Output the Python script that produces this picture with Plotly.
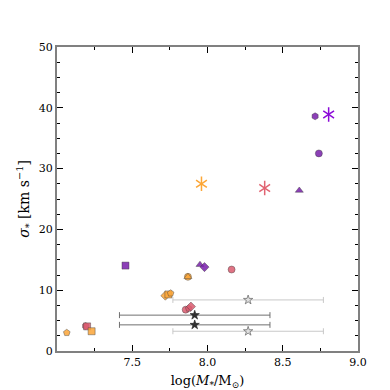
import plotly.graph_objects as go

# puntos por color: log(M*/Msun), sigma*, simbolo
purple_x   = [7.455, 7.95, 7.98, 8.715, 8.74, 8.61]
purple_y   = [14.05, 14.2, 13.8, 38.6, 32.5, 26.4]
purple_sym = ["square", "triangle-up", "diamond", "hexagon", "circle", "triangle-up"]

pink_x   = [8.16, 7.855, 7.875, 7.89, 7.19, 7.2]
pink_y   = [13.4, 6.8, 7.0, 7.3, 4.1, 4.05]
pink_sym = ["circle", "circle", "pentagon", "diamond", "hexagon", "square"]

orange_x   = [7.87, 7.87, 7.72, 7.74, 7.755, 7.23, 7.065]
orange_y   = [12.2, 12.2, 9.1, 9.3, 9.5, 3.25, 3.0]
orange_sym = ["circle", "triangle-up", "diamond", "square", "pentagon", "square", "pentagon"]

# asteriscos
ast_x      = [7.96, 8.38, 8.805]
ast_y      = [27.5, 26.8, 38.9]
ast_colors = ["#fca636", "#e16472", "#8b0ad8"]

# estrellas con barras de error en x
star_light_x = [8.27, 8.27]
star_light_y = [8.4, 3.25]
star_dark_x  = [7.915, 7.915]
star_dark_y  = [5.9, 4.3]
star_err     = 0.5

x_range = [7.0, 9.0]
y_range = [0, 50]
x_ticks = [7.5, 8.0, 8.5, 9.0]
x_ticktext = ["7.5", "8.0", "8.5", "9.0"]
y_ticks = [0, 10, 20, 30, 40, 50]

PURPLE = "rgba(120,30,170,0.85)"
PINK   = "rgba(218,90,110,0.85)"
ORANGE = "rgba(250,165,55,0.85)"

fig = go.Figure()

for xs, ys, syms, color in [
    (purple_x, purple_y, purple_sym, PURPLE),
    (pink_x, pink_y, pink_sym, PINK),
    (orange_x, orange_y, orange_sym, ORANGE),
]:
    fig.add_trace(go.Scatter(
        x=xs, y=ys, mode="markers",
        marker=dict(symbol=syms, size=7, color=color,
                    line=dict(color="rgba(60,60,60,0.7)", width=0.6)),
    ))

fig.add_trace(go.Scatter(
    x=star_light_x, y=star_light_y, mode="markers",
    error_x=dict(type="constant", value=star_err, color="#c8c8c8", thickness=1, width=3),
    marker=dict(symbol="star", size=7, color="#e0e0e0",
                line=dict(color="#707070", width=0.8)),
))
fig.add_trace(go.Scatter(
    x=star_dark_x, y=star_dark_y, mode="markers",
    error_x=dict(type="constant", value=star_err, color="#707070", thickness=1, width=3),
    marker=dict(symbol="star", size=7, color="#303030",
                line=dict(color="#202020", width=0.6)),
))

# asterisco de 6 brazos: y-up + y-down superpuestos (en los ejes espejo)
for sym in ["y-up-open", "y-down-open"]:
    fig.add_trace(go.Scatter(
        x=ast_x, y=ast_y, mode="markers", xaxis="x2", yaxis="y2",
        marker=dict(symbol=sym, size=9, color=ast_colors,
                    line=dict(color=ast_colors, width=1.5)),
    ))

axis_common = dict(
    showline=True, linecolor="gray", linewidth=2, mirror=False,
    ticks="inside", ticklen=6, tickwidth=1, tickcolor="black",
    showgrid=False, zeroline=False,
    tickfont=dict(family="DejaVu Serif", size=11),
)
x_minor = dict(dtick=0.25, tick0=7.0, ticks="inside", ticklen=3, tickcolor="black")
y_minor = dict(dtick=2.5, tick0=0, ticks="inside", ticklen=3, tickcolor="black")

fig.update_layout(
    template="simple_white",
    width=390, height=390,
    margin=dict(l=49, r=40, t=39, b=39),
    plot_bgcolor="white", paper_bgcolor="white",
    font=dict(color="black"),
    showlegend=False,
    xaxis=dict(
        range=x_range, tickvals=x_ticks, ticktext=x_ticktext, minor=x_minor,
        title=dict(text="log(<i>M</i><sub>*</sub>/M<sub>⊙</sub>)", standoff=8,
                   font=dict(family="DejaVu Serif", size=13)),
        **axis_common,
    ),
    yaxis=dict(
        range=y_range, tickvals=y_ticks, minor=y_minor,
        title=dict(text="<i>σ</i><sub>*</sub> [km s<sup>−1</sup>]", standoff=6,
                   font=dict(family="DejaVu Serif", size=14)),
        **axis_common,
    ),
    xaxis2=dict(
        range=x_range, overlaying="x", side="top", anchor="y2",
        tickvals=x_ticks, showticklabels=False, minor=x_minor,
        **axis_common,
    ),
    yaxis2=dict(
        range=y_range, overlaying="y", side="right", anchor="x2",
        tickvals=y_ticks, showticklabels=False, minor=y_minor,
        **axis_common,
    ),
)

fig.write_html("out.html")
